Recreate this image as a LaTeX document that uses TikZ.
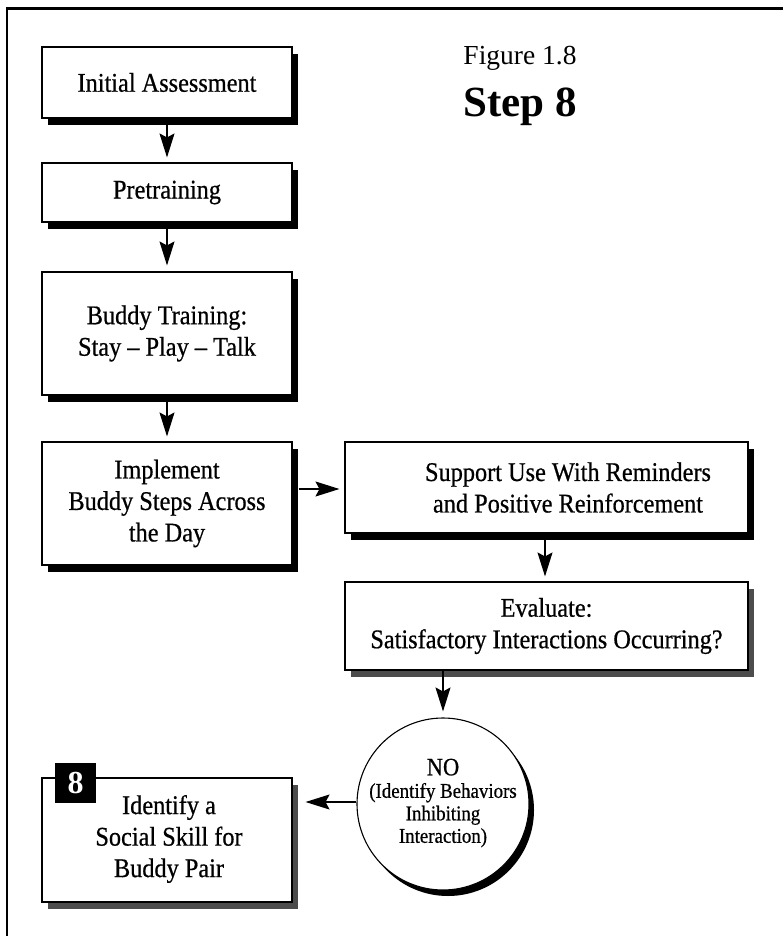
\documentclass[tikz,border=0pt]{standalone}
\usepackage{fontspec}
\setmainfont{Liberation Serif}
\newfontfamily\condfont{Liberation Serif}[FakeStretch=0.9,FakeBold=0.6,Ligatures=TeX]
\usetikzlibrary{arrows.meta,shadows,calc}
\begin{document}
\begin{tikzpicture}[x=1pt,y=-1pt,
  box/.style={draw=black, line width=1.1pt, fill=white, rectangle, inner sep=0pt,
    align=center, font=\condfont\fontsize{27}{31.5}\selectfont,
    general shadow={fill=black, shadow xshift=6pt, shadow yshift=-7pt}},
  greybox/.style={box, general shadow={fill=black!70, shadow xshift=6pt, shadow yshift=-7pt}},
  txt/.style={inner sep=0pt, align=center, font=\condfont\fontsize{27}{31.5}\selectfont},
  flow/.style={line width=1.4pt, -{Stealth[length=24pt,width=15pt,inset=4pt]}}
]
\useasboundingbox (0,0) rectangle (783,936);
% frame
\draw[line width=2pt] (7,936) -- (7,9);
\draw[line width=3pt] (6,9) -- (783,9);

% title
\node[anchor=base, inner sep=0pt, font=\fontsize{27.5}{30}\selectfont] (fig) at (520,65) {Figure 1.8};
\node[anchor=base, inner sep=0pt, font=\fontsize{43}{46}\selectfont\bfseries] (step) at (520,117) {Step 8};

% boxes
\node[box, minimum width=250pt, minimum height=71pt] (init) at (167,82.5) {Initial Assessment};
\node[box, minimum width=250pt, minimum height=59pt] (pre) at (167,192.5) {Pretraining};
\node[box, minimum width=250pt, minimum height=123pt] (buddy) at (167,333.5) {Buddy Training:\\Stay – Play – Talk};
\node[box, minimum width=250pt, minimum height=123pt] (impl) at (167,503.5) {Implement\\Buddy Steps Across\\the Day};
\node[box, minimum width=403pt, minimum height=91pt] (support) at (546.5,487.5) {};
\node[txt] (supporttxt) at (568,487.5) {Support Use With Reminders\\and Positive Reinforcement};
\node[greybox, minimum width=403pt, minimum height=88pt] (eval) at (546.5,626) {Evaluate:\\Satisfactory Interactions Occurring?};

% circle with crescent shadow
\fill[black] (448,810) circle[radius=86];
\node[circle, draw=black, line width=1.1pt, fill=white, minimum size=172pt, inner sep=0pt] (no) at (443,804) {};
\node[inner sep=0pt, align=center, font=\condfont\fontsize{21}{22.5}\selectfont] (notxt) at (443,803)
  {{\fontsize{25}{25}\selectfont NO}\\(Identify Behaviors\\Inhibiting\\Interaction)};

% final box
\node[greybox, minimum width=250pt, minimum height=124pt] (skill) at (167,840) {};
\node[txt] (skilltxt) at (169,839) {Identify a\\Social Skill for\\Buddy Pair};
\node[fill=black, minimum width=41pt, minimum height=40pt, inner sep=0pt,
  text=white, font=\fontsize{32}{32}\selectfont\bfseries] (badge) at (75.5,783) {8};

% connectors
\draw[flow, shorten >=5pt] (init) -- (pre);
\draw[flow, shorten >=6pt] (pre) -- (buddy);
\draw[flow, shorten >=5pt] (buddy) -- (impl);
\draw[flow, shorten >=5pt] ($(impl.east|-support.west)+(6,1.5)$) -- ($(support.west)+(0,1.5)$);
\draw[flow, shorten >=5pt] ($(support.south)+(-1.5,0)$) -- ($(eval.north)+(-1.5,0)$);
\draw[flow, shorten >=6pt] (eval.south -| no.north) -- (no.north);
\draw[flow, shorten >=13pt] ($(no.west)+(0,-2)$) -- ($(no.west -| skill.east)+(0,-2)$);
\end{tikzpicture}
\end{document}
